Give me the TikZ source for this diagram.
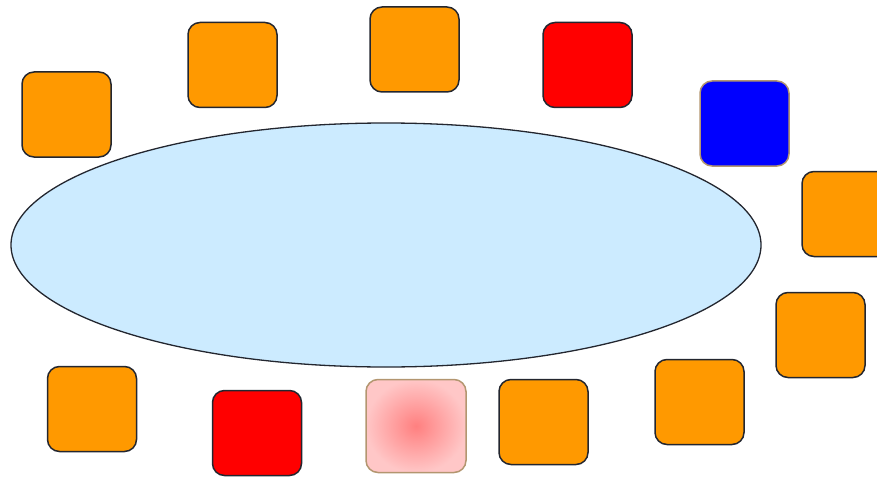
\documentclass[tikz,border=0pt]{standalone}
\usepackage{tikz}
\usetikzlibrary{shapes.geometric}
\definecolor{orange}{HTML}{FF9900}
\definecolor{rouge}{HTML}{FF0000}
\definecolor{bleu}{HTML}{0000FF}
\definecolor{ciel}{HTML}{CCEBFF}
\definecolor{encre}{HTML}{23262F}
\definecolor{sable}{HTML}{B39670}
\begin{document}
\begin{tikzpicture}[x=1pt,y=-1pt,
  seat/.style={draw=encre,line width=1.5pt,fill=orange,rounded corners=12pt,minimum width=89pt,minimum height=85pt,inner sep=0pt},
  hot/.style={seat,fill=rouge},
  chair/.style={seat,draw=sable,fill=bleu},
  glow/.style={seat,draw=sable,shading=radial,inner color=rouge!50,outer color=rouge!22,minimum width=100pt,minimum height=93pt},
  tbl/.style={ellipse,draw=encre,line width=1.3pt,fill=ciel,minimum width=750pt,minimum height=244pt,inner sep=0pt}]
  \useasboundingbox (0,0) rectangle (877,476);
  \clip (0,0) rectangle (877,476);
  % Table
  \node[tbl] (table) at (386,245) {};
  % Rangee du haut
  \node[seat] (s1) at (66.5,114.5) {};
  \node[seat] (s2) at (232.5,65) {};
  \node[seat] (s3) at (414.5,49.5) {};
  \node[hot] (s4) at (587.5,65) {};
  \node[chair] (s5) at (744.5,123.5) {};
  % Cote droit
  \node[seat] (s6) at (846.5,214) {};
  \node[seat] (s7) at (820.5,335) {};
  % Rangee du bas
  \node[seat] (s8) at (699.5,402) {};
  \node[seat] (s9) at (543.5,422) {};
  \node[glow] (s10) at (416,426) {};
  \node[hot] (s11) at (257,433) {};
  \node[seat] (s12) at (92,409) {};
\end{tikzpicture}
\end{document}
